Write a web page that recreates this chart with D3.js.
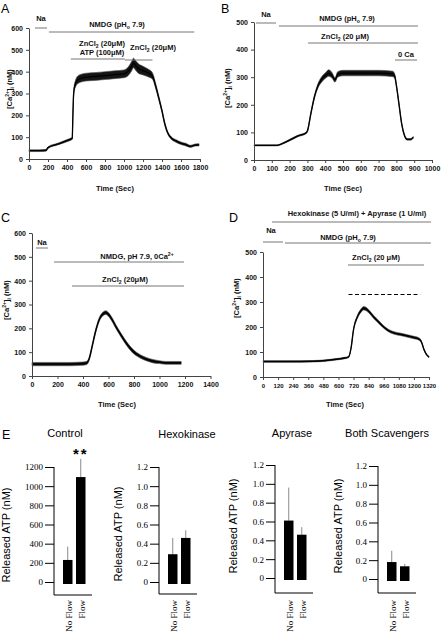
<!DOCTYPE html>
<html><head><meta charset="utf-8">
<script src="https://cdn.jsdelivr.net/npm/d3@7"></script>
<style>body{margin:0;background:#fff}svg{display:block}</style>
</head><body>
<script>
// ---------- Panel A ----------
const aTime = [0,100,180,200,300,400,445,455,462,470,485,520,600,700,800,900,1000,1050,1080,1100,1120,1150,1200,1250,1300,1330,1360,1400,1430,1460,1500,1550,1600,1650,1700,1750,1790];
const aCa   = [38,38,40,52,68,84,92,95,200,300,340,365,375,378,382,386,390,405,425,440,430,415,405,395,380,340,290,220,160,120,95,82,72,66,58,64,65];
const aBand = [4,4,4,4,4,5,5,5,8,12,15,18,18,18,18,18,18,20,22,22,22,22,20,18,15,12,10,8,8,6,6,6,6,6,5,5,5];
const aXTicks = [0,200,400,600,800,1000,1200,1400,1600,1800];
const aYTicks = [0,100,200,300,400,500,600];
const aAnnStart = [63,210,440,1010];
const aAnnEnd   = [190,1740,1010,1300];

// ---------- Panel B ----------
const bTime = [0,130,150,200,250,290,300,320,340,360,380,400,420,440,455,470,500,600,700,780,790,800,815,830,845,860,880,895];
const bCa   = [53,53,57,72,88,97,105,170,230,270,292,305,315,305,290,310,315,315,315,312,305,270,200,130,90,75,75,82];
const bBand = [2,2,2,3,3,3,4,5,6,8,10,10,12,10,8,10,10,10,10,10,8,6,5,4,3,3,3,3];
const bXTicks = [0,100,200,300,400,500,600,700,800,900,1000];
const bYTicks = [0,100,200,300,400,500];
const bAnnStart = [11,140,303,792];
const bAnnEnd   = [124,921,921,916];

// ---------- Panel C ----------
const cTime = [0,100,200,300,400,430,450,470,500,530,560,580,600,630,660,700,750,800,850,900,950,1000,1050,1100,1170];
const cCa   = [50,50,50,50,52,55,75,120,190,240,262,266,258,235,205,170,130,100,82,70,62,58,55,55,55];
const cBand = [7,7,7,7,7,7,7,8,8,8,8,8,8,8,8,8,8,8,7,7,7,6,6,6,6];
const cXTicks = [0,200,400,600,800,1000,1200,1400];
const cYTicks = [0,100,200,300,400,500,600];
const cAnnStart = [31,173,314];
const cAnnEnd   = [125,1192,1192];

// ---------- Panel D ----------
const dTime = [0,200,400,500,600,650,680,700,720,750,780,800,820,850,880,920,960,1000,1050,1100,1150,1200,1240,1260,1280,1300,1320];
const dCa   = [62,62,63,66,72,76,80,115,190,240,266,275,272,258,240,220,200,185,175,170,164,158,152,140,110,90,80];
const dBand = [3,3,3,3,3,3,3,4,5,6,7,7,7,6,6,6,5,5,5,5,5,5,5,4,3,3,3];
const dXTicks = [0,120,240,360,480,600,720,840,960,1080,1200,1320];
const dYTicks = [0,100,200,300,400,500];
const dAnnStart = [72,0,175,676];
const dAnnEnd   = [1335,159,1335,1280];
const dDash = [680,1250,330]; // start, end, level (nM)

// ---------- Panel E ----------
const eGroups = ["Control","Hexokinase","Apyrase","Both Scavengers"];
const eCats = ["No Flow","Flow"];
const controlMean = [230,1095], controlSem = [140,190];
const hexoMean = [0.29,0.46], hexoSem = [0.17,0.08];
const apyMean = [0.61,0.46], apySem = [0.35,0.08];
const bothMean = [0.18,0.135], bothSem = [0.12,0.025];
const controlTicks = [0,200,400,600,800,1000,1200];
const ratioTicks = [0,0.2,0.4,0.6,0.8,1.0,1.2];

const SANS = "'Liberation Sans', Arial, Helvetica, sans-serif";
const SERIF = "'Liberation Serif', 'Times New Roman', serif";
const svg = d3.select("body").append("svg").attr("width",441).attr("height",638);

function rich(g, x, y, segs, opt) {
  const t = g.append("text").attr("x",x).attr("y",y).attr("text-anchor", opt.anchor||"middle")
    .attr("font-family", SANS).attr("font-size", opt.size).attr("font-weight", opt.weight||"bold")
    .attr("fill", opt.fill||"#111");
  if (opt.rotate) t.attr("transform", `rotate(-90,${x},${y})`);
  let shift = 0;
  segs.forEach(([s, kind]) => {
    const target = kind==="sup" ? -0.38*opt.size : kind==="sub" ? 0.28*opt.size : 0;
    const ts = t.append("tspan").text(s).attr("dy", target - shift);
    if (kind) ts.attr("font-size", opt.size*0.68);
    shift = target;
  });
  return t;
}

const caLabel = [["[Ca"],["2+","sup"],["]"],["i","sub"],[" (nM)"]];

function tracePanel(cfg) {
  const x = d3.scaleLinear().domain(cfg.xDomain).range(cfg.xRange);
  const y = d3.scaleLinear().domain(cfg.yDomain).range(cfg.yRange);
  const g = svg.append("g");
  const pts = cfg.t.map((t,i)=>({t, v: cfg.v[i], b: cfg.b[i]}));
  g.append("path").datum(pts)
    .attr("d", d3.area().x(d=>x(d.t)).y0(d=>y(d.v-d.b)).y1(d=>y(d.v+d.b)).curve(d3.curveMonotoneX))
    .attr("fill","#151515").attr("stroke","#555").attr("stroke-width",0.6);
  g.append("path").datum(pts)
    .attr("d", d3.line().x(d=>x(d.t)).y(d=>y(d.v)).curve(d3.curveMonotoneX))
    .attr("fill","none").attr("stroke","#000").attr("stroke-width",1.3);
  const ya = g.append("g").attr("transform",`translate(${cfg.xRange[0]},0)`)
    .call(d3.axisLeft(y).tickValues(cfg.yTicks).tickSize(3).tickSizeOuter(0).tickPadding(3).tickFormat(d3.format("d")));
  const xa = g.append("g").attr("transform",`translate(0,${cfg.yRange[0]})`)
    .call(d3.axisBottom(x).tickValues(cfg.xTicks).tickSize(3).tickSizeOuter(0).tickPadding(3).tickFormat(d3.format("d")));
  [ya,xa].forEach(a=>{
    a.selectAll("text").attr("font-family",SANS).attr("font-size",7).attr("font-weight","bold").attr("fill","#111");
    a.selectAll("path,line").attr("stroke","#444");
  });
  if (cfg.xTickSize) xa.selectAll("text").attr("font-size",cfg.xTickSize);
  ya.selectAll("text").attr("dy","0.34em");
  xa.selectAll("text").attr("dy","0.75em");
  // axis title
  g.append("text").attr("x",cfg.xTitle[0]).attr("y",cfg.xTitle[1]).attr("text-anchor","middle")
    .attr("font-family",SANS).attr("font-size",7.5).attr("font-weight","bold").attr("fill","#111").text("Time (Sec)");
  rich(g, cfg.yTitle[0], cfg.yTitle[1], caLabel, {size:7.5, rotate:true});
  // panel letter
  g.append("text").attr("x",cfg.letter[1]).attr("y",cfg.letter[2]).attr("font-family",SANS)
    .attr("font-size",12.5).attr("fill","#000").text(cfg.letter[0]);
  // annotation bars
  cfg.annStart.forEach((s,i)=>{
    g.append("line").attr("x1",x(s)).attr("x2",x(cfg.annEnd[i]))
      .attr("y1",cfg.annY[i]).attr("y2",cfg.annY[i]).attr("stroke","#777").attr("stroke-width",1);
  });
  return {g,x,y};
}

// ---------- A ----------
const A = tracePanel({t:aTime,v:aCa,b:aBand,xDomain:[0,1800],xRange:[29,200],yDomain:[0,600],yRange:[159,28],
  xTicks:aXTicks,yTicks:aYTicks,xTitle:[115,191],yTitle:[12,89],letter:["A",1,13],
  annStart:aAnnStart,annEnd:aAnnEnd,annY:[28,32,59,60]});
rich(A.g,41,21,[["Na"]],{size:7.5});
rich(A.g,117,27,[["NMDG (pH"],["o","sub"],[" 7.9)"]],{size:7.5});
rich(A.g,102,46,[["ZnCl"],["2","sub"],[" (20μM)"]],{size:7.5});
rich(A.g,102,55,[["ATP (100μM)"]],{size:7.5});
rich(A.g,153,50,[["ZnCl"],["2","sub"],[" (20μM)"]],{size:7.5});

// ---------- B ----------
const B = tracePanel({t:bTime,v:bCa,b:bBand,xDomain:[0,1000],xRange:[254,432],yDomain:[0,500],yRange:[160,22],
  xTicks:bXTicks,yTicks:bYTicks,xTitle:[343,191],yTitle:[230,88],letter:["B",221,13],
  annStart:bAnnStart,annEnd:bAnnEnd,annY:[23,26,43,60]});
rich(B.g,266,17,[["Na"]],{size:7.5});
rich(B.g,347,21,[["NMDG (pH"],["o","sub"],[" 7.9)"]],{size:7.5});
rich(B.g,345,39,[["ZnCl"],["2","sub"],[" (20 μM)"]],{size:7.5});
rich(B.g,406,57,[["0 Ca"]],{size:7.5});

// ---------- C ----------
const C = tracePanel({t:cTime,v:cCa,b:cBand,xDomain:[0,1400],xRange:[32,210.5],yDomain:[0,600],yRange:[376,233],
  xTicks:cXTicks,yTicks:cYTicks,xTitle:[117,407],yTitle:[9,300],letter:["C",1,222],
  annStart:cAnnStart,annEnd:cAnnEnd,annY:[248,262,286]});
rich(C.g,42,245,[["Na"]],{size:7.5});
rich(C.g,137,259,[["NMDG, pH 7.9, 0Ca"],["2+","sup"]],{size:7.5});
rich(C.g,125,282,[["ZnCl"],["2","sub"],[" (20μM)"]],{size:7.5});

// ---------- D ----------
const D = tracePanel({t:dTime,v:dCa,b:dBand,xDomain:[0,1320],xRange:[263,429],yDomain:[0,500],yRange:[377,252],
  xTicks:dXTicks,yTicks:dYTicks,xTickSize:6,xTitle:[345,407],yTitle:[239,298],letter:["D",229,222],
  annStart:dAnnStart,annEnd:dAnnEnd,annY:[222,242,243,265]});
rich(D.g,357,216,[["Hexokinase (5 U/ml) + Apyrase (1 U/ml)"]],{size:7.5});
rich(D.g,271,233,[["Na"]],{size:7.5});
rich(D.g,348,240,[["NMDG (pH"],["o","sub"],[" 7.9)"]],{size:7.5});
rich(D.g,376,260,[["ZnCl"],["2","sub"],[" (20 μM)"]],{size:7.5});
D.g.append("line").attr("x1",D.x(dDash[0])).attr("x2",D.x(dDash[1])).attr("y1",D.y(dDash[2])).attr("y2",D.y(dDash[2]))
  .attr("stroke","#000").attr("stroke-width",1).attr("stroke-dasharray","4,2.5");

// ---------- E ----------
svg.append("text").attr("x",2).attr("y",439).attr("font-family",SANS).attr("font-size",12.5).text("E");

function barPanel(cfg) {
  const g = svg.append("g");
  const y = d3.scaleLinear().domain([0,cfg.max]).range([cfg.zero,cfg.top]);
  const x = d3.scaleBand().domain(eCats).range([cfg.ax+9,cfg.ax+31.5]).paddingInner(0.27).paddingOuter(0);
  g.append("text").attr("x",cfg.title[0]).attr("y",cfg.title[1]).attr("text-anchor","middle")
    .attr("font-family",SANS).attr("font-size",11).attr("fill","#000").text(cfg.name);
  g.append("text").attr("transform",`translate(${cfg.ylab[0]},${cfg.ylab[1]}) rotate(-90)`)
    .attr("text-anchor","middle").attr("font-family",SANS).attr("font-size",11).attr("fill","#000")
    .text("Released ATP (nM)");
  const ax = g.append("g").attr("transform",`translate(${cfg.ax},0)`)
    .call(d3.axisLeft(y).tickValues(cfg.ticks).tickSize(9).tickPadding(2).tickFormat(cfg.fmt));
  ax.select(".domain").remove();
  ax.selectAll("line").attr("stroke","#000");
  ax.selectAll("text").attr("font-family",SERIF).attr("font-size",9).attr("fill","#000");
  g.append("line").attr("x1",cfg.ax).attr("x2",cfg.ax).attr("y1",y(cfg.max)).attr("y2",cfg.base).attr("stroke","#000");
  g.append("line").attr("x1",cfg.ax).attr("x2",cfg.ax+38).attr("y1",cfg.base).attr("y2",cfg.base).attr("stroke","#000");
  eCats.forEach((c,i)=>{
    const cx = x(c)+x.bandwidth()/2;
    g.append("line").attr("x1",cx).attr("x2",cx).attr("y1",y(cfg.mean[i])).attr("y2",y(cfg.mean[i]+cfg.sem[i]))
      .attr("stroke","#8a8a8a").attr("stroke-width",1);
  });
  g.selectAll("rect.bar").data(eCats).enter().append("rect").attr("class","bar")
    .attr("x",c=>x(c)).attr("width",x.bandwidth())
    .attr("y",(c,i)=>y(cfg.mean[i])).attr("height",(c,i)=>y(0)+2-y(cfg.mean[i]))
    .attr("fill","#000");
  eCats.forEach(c=>{
    const bx = x(c)+x.bandwidth()/2+4;
    g.append("text").attr("transform",`translate(${bx},600) rotate(-90)`).attr("text-anchor","end")
      .attr("font-family",SERIF).attr("font-size",9).attr("fill","#000").text(c);
  });
  return {g,x,y};
}
const ratioFmt = d => d===0 ? "0" : d3.format(".1f")(d);
const E1 = barPanel({name:eGroups[0],mean:controlMean,sem:controlSem,max:1200,ticks:controlTicks,fmt:d3.format("d"),
  ax:54,top:467,zero:582,base:595,title:[65,437],ylab:[10,535]});
E1.g.append("text").attr("x",E1.x("Flow")+E1.x.bandwidth()/2).attr("y",459).attr("text-anchor","middle")
  .attr("font-family",SANS).attr("font-weight","bold").attr("font-size",15).attr("letter-spacing","2px").text("**");
barPanel({name:eGroups[1],mean:hexoMean,sem:hexoSem,max:1.2,ticks:ratioTicks,fmt:ratioFmt,
  ax:159,top:467,zero:582,base:594,title:[187,438],ylab:[122,534]});
barPanel({name:eGroups[2],mean:apyMean,sem:apySem,max:1.2,ticks:ratioTicks,fmt:ratioFmt,
  ax:275,top:465,zero:578,base:593,title:[292,437],ylab:[237,526]});
barPanel({name:eGroups[3],mean:bothMean,sem:bothSem,max:1.2,ticks:ratioTicks,fmt:ratioFmt,
  ax:378,top:466,zero:579,base:593,title:[387,437],ylab:[342,526]});
</script>
</body></html>
